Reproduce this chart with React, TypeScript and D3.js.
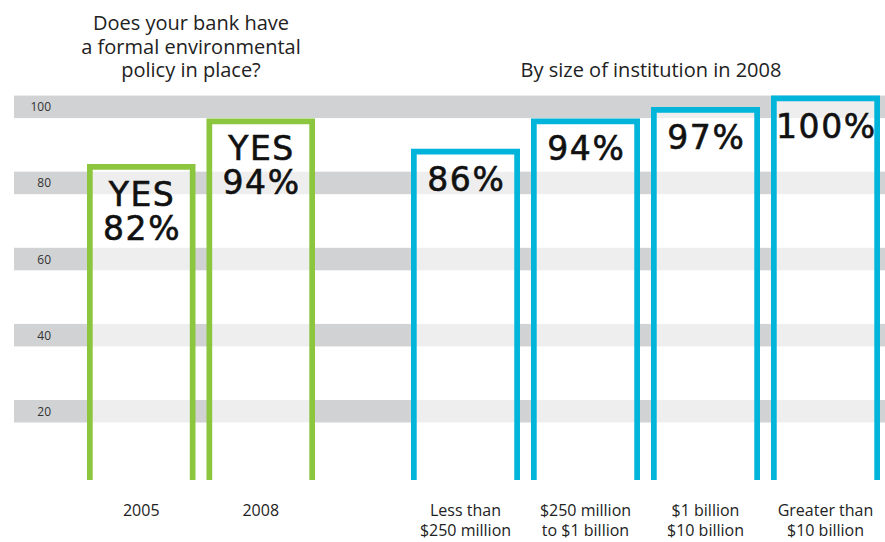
import React from "react";
import * as d3 from "d3";

const W = 885;
const H = 542;

// Data
const gridTicks = [20, 40, 60, 80, 100];
const yearCategories = ["2005", "2008"];
const yearValues = [82, 94];
const yearLabelPrefix = "YES";
const sizeCategories = [
  ["Less than", "$250 million"],
  ["$250 million", "to $1 billion"],
  ["$1 billion", "$10 billion"],
  ["Greater than", "$10 billion"],
];
const sizeValues = [86, 94, 97, 100];
const leftTitle = ["Does your bank have", "a formal environmental", "policy in place?"];
const rightTitle = "By size of institution in 2008";

const GREEN = "#8cc63f";
const BLUE = "#00b4da";
const BAND = "#d1d2d4";
const SW = 5.7;
const BAR_BOTTOM = 480;
const BIG_FONT = "'DejaVu Sans', Lato, sans-serif";
const SMALL_FONT = "'Open Sans', 'Noto Sans', sans-serif";
const BIG_LS = 1.6;

export default function App() {
  const y = d3.scaleLinear().domain([0, 100]).range([476.1, 95.6]);
  const bandH = 22.5;

  const xA = d3
    .scaleBand<string>()
    .domain(yearCategories)
    .range([87, 315])
    .paddingInner(0.092)
    .paddingOuter(0);
  const sizeKeys = sizeCategories.map((c) => c.join(" "));
  const xB = d3
    .scaleBand<string>()
    .domain(sizeKeys)
    .range([411, 880])
    .paddingInner(0.092)
    .paddingOuter(0);

  const barPath = (x0: number, w: number, v: number) => {
    const l = x0 + SW / 2;
    const r = x0 + w - SW / 2;
    const t = y(v) + SW / 2;
    const p = d3.path();
    p.moveTo(l, BAR_BOTTOM);
    p.lineTo(l, t);
    p.lineTo(r, t);
    p.lineTo(r, BAR_BOTTOM);
    return p.toString();
  };

  const bars: {
    key: string;
    x: number;
    w: number;
    v: number;
    color: string;
    lines: string[];
    labels: string[];
  }[] = [];
  yearCategories.forEach((c, i) => {
    bars.push({
      key: c,
      x: xA(c)!,
      w: xA.bandwidth(),
      v: yearValues[i],
      color: GREEN,
      lines: [yearLabelPrefix, `${yearValues[i]}%`],
      labels: [c],
    });
  });
  sizeKeys.forEach((k, i) => {
    bars.push({
      key: k,
      x: xB(k)!,
      w: xB.bandwidth(),
      v: sizeValues[i],
      color: BLUE,
      lines: [`${sizeValues[i]}%`],
      labels: sizeCategories[i],
    });
  });

  return (
    <svg
      width={W}
      height={H}
      viewBox={`0 0 ${W} ${H}`}
      style={{ position: "absolute", left: 0, top: 0, background: "#fff" }}
    >
      <rect x={0} y={0} width={W} height={H} fill="#fff" />
      {/* Bands */}
      {gridTicks.map((t) => (
        <g key={t}>
          <rect x={14} y={y(t)} width={W - 14} height={bandH} fill={BAND} />
          <text
            x={51}
            y={y(t) + bandH / 2}
            textAnchor="end"
            dominantBaseline="central"
            fontFamily={SMALL_FONT}
            fontSize={12}
            fill="#333"
          >
            {t}
          </text>
        </g>
      ))}
      {/* Bars */}
      {bars.map((b) => (
        <g key={b.key}>
          <rect
            x={b.x + SW / 2}
            y={y(b.v) + SW / 2}
            width={b.w - SW}
            height={BAR_BOTTOM - y(b.v) - SW / 2}
            fill="#fff"
            fillOpacity={0.63}
          />
          <path d={barPath(b.x, b.w, b.v)} fill="none" stroke={b.color} strokeWidth={SW} />
          {b.lines.map((ln, j) => (
            <text
              key={j}
              x={b.x + b.w / 2 + BIG_LS / 2}
              y={y(b.v) + 42 + j * 34}
              textAnchor="middle"
              fontFamily={BIG_FONT}
              fontSize={33}
              letterSpacing={BIG_LS}
              fill="#111"
              stroke="#111"
              strokeWidth={0.6}
            >
              {ln}
            </text>
          ))}
          {b.labels.map((ln, j) => (
            <text
              key={"l" + j}
              x={b.x + b.w / 2}
              y={516 + j * 19.5}
              textAnchor="middle"
              fontFamily={SMALL_FONT}
              fontSize={16}
              fill="#222"
            >
              {ln}
            </text>
          ))}
        </g>
      ))}
      {/* Titles */}
      {leftTitle.map((ln, i) => (
        <text
          key={i}
          x={191}
          y={30 + i * 23.5}
          textAnchor="middle"
          fontFamily={SMALL_FONT}
          fontSize={20}
          fill="#222"
        >
          {ln}
        </text>
      ))}
      <text
        x={651}
        y={77}
        textAnchor="middle"
        fontFamily={SMALL_FONT}
        fontSize={20}
        fill="#222"
      >
        {rightTitle}
      </text>
    </svg>
  );
}
